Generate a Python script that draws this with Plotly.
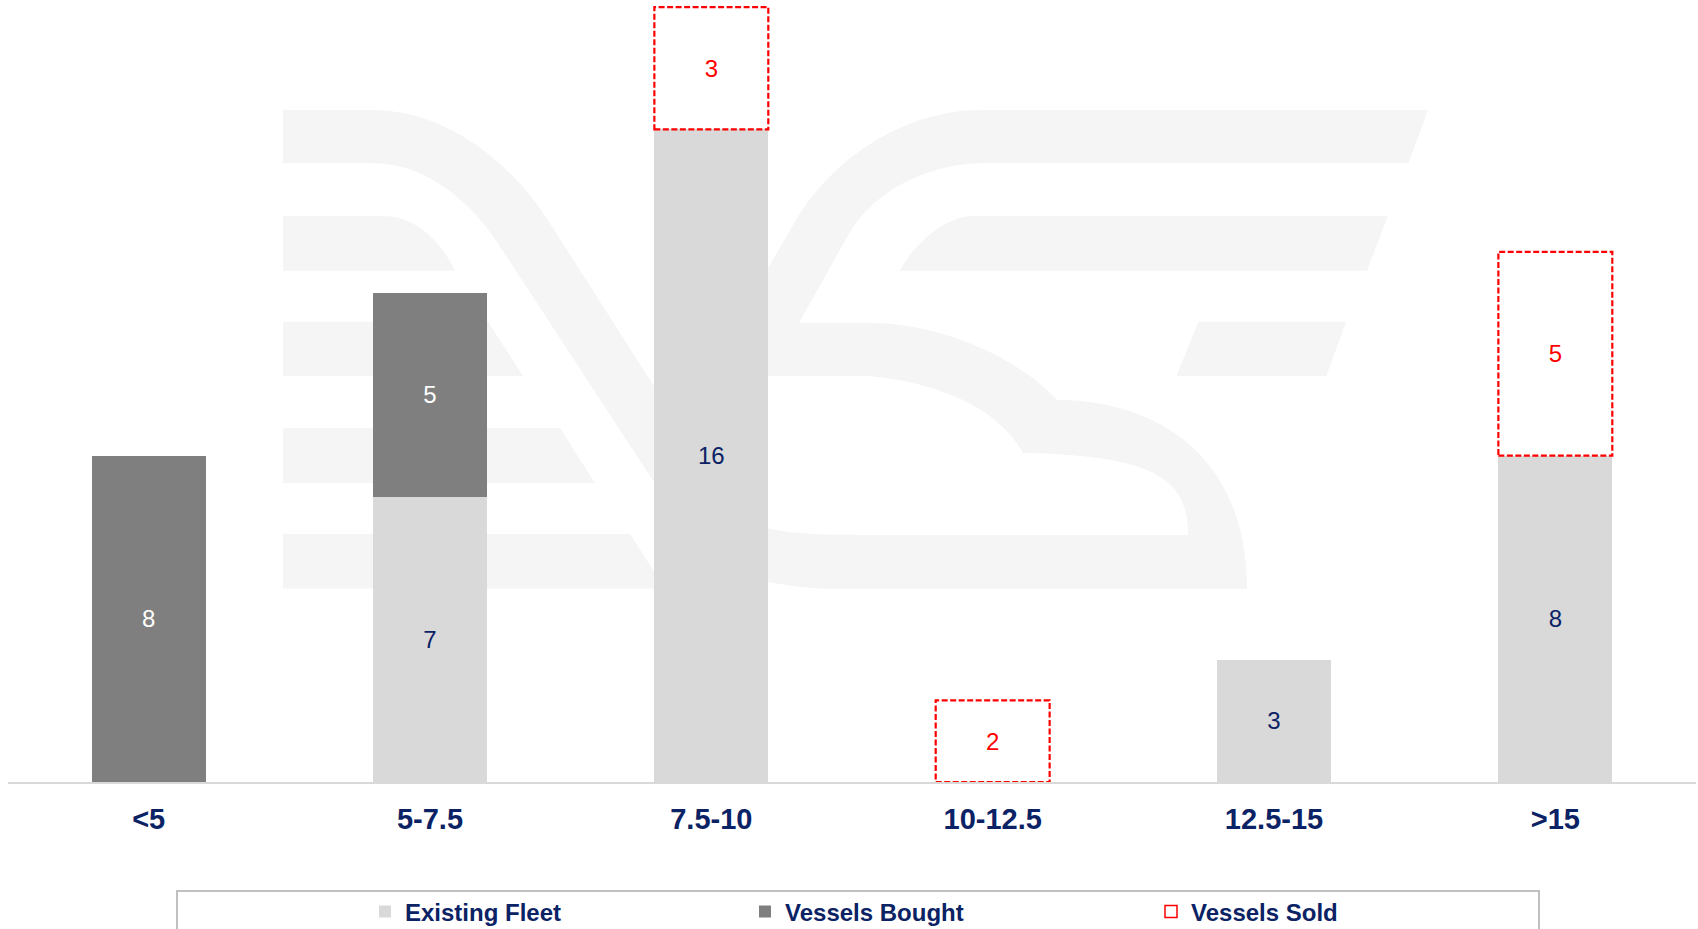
import plotly.graph_objects as go

# ---- data -------------------------------------------------------------
categories = ["<5", "5-7.5", "7.5-10", "10-12.5", "12.5-15", ">15"]
existing_fleet = [0, 7, 16, 0, 3, 8]
vessels_bought = [8, 5, 0, 0, 0, 0]
vessels_sold = [0, 0, 3, 2, 0, 5]

# ---- layout constants -------------------------------------------------
W, H = 1698, 929
ML, MR, MT, MB = 8, 2, 3, 147
PW = W - ML - MR
PH = H - MT - MB
Y_MAX = 19.1
BAR_GAP = 0.595
BAR_W = 1 - BAR_GAP

NAVY = "#0b2265"
LIGHT = "#d9d9d9"
DARK = "#7f7f7f"
RED = "#ff0000"
MARK = "#f4f5f4"
FONT = "Arial, Liberation Sans, sans-serif"


def px_to_paper(x, y):
    return (x - ML) / PW, (H - MB - y) / PH


def svg_path(cmds):
    parts = []
    for cmd, pts in cmds:
        if cmd == "Z":
            parts.append("Z")
            continue
        xy = []
        for x, y in pts:
            px, py = px_to_paper(x, y)
            xy.append(f"{px:.5f},{py:.5f}")
        if cmd == "C":
            parts.append("C" + " ".join(xy))
        else:
            parts.extend(cmd + c for c in xy)
    return " ".join(parts)


# ---- background logo (pixel outline, converted to paper space) --------
logo_paths = [
    # main stroke: upper-left bar, diagonal, base, bowl, middle bar, top bar
    [
        ("M", [(283, 110)]),
        ("L", [(373, 110)]),
        ("C", [(440, 110), (505, 155), (546.7, 218.3)]),
        ("L", [(730, 505)]),
        ("C", [(745, 528), (775, 535), (860, 535)]),
        ("L", [(1188, 535)]),
        ("C", [(1188, 485), (1165, 455), (1023, 453)]),
        ("C", [(1005, 420), (960, 385), (869, 376)]),
        ("L", [(705, 376)]),
        ("L", [(795, 221.7)]),
        ("C", [(830, 162), (900, 110), (982.7, 110)]),
        ("L", [(1428, 110)]),
        ("L", [(1408.5, 163.3)]),
        ("L", [(982.7, 163.3)]),
        ("C", [(930, 163.3), (875, 190), (850, 232)]),
        ("L", [(799, 322.7)]),
        ("L", [(869, 322.7)]),
        ("C", [(930, 322.7), (1010, 350), (1057, 400)]),
        ("C", [(1150, 400), (1247, 450), (1247, 589)]),
        ("L", [(843, 589)]),
        ("C", [(760, 589), (710, 568), (691.8, 540)]),
        ("L", [(497, 242)]),
        ("C", [(475, 208), (430, 163.3), (373, 163.3)]),
        ("L", [(283, 163.3)]),
        ("Z", []),
    ],
    # left speed lines
    [
        ("M", [(283, 216)]),
        ("L", [(383, 216)]),
        ("C", [(415, 216), (440, 240), (455, 270.7)]),
        ("L", [(283, 270.7)]),
        ("Z", []),
    ],
    [("M", [(283, 321.7)]), ("L", [(488, 321.7), (523, 376), (283, 376)]), ("Z", [])],
    [("M", [(283, 428)]), ("L", [(560, 428), (595, 483), (283, 483)]), ("Z", [])],
    [("M", [(283, 534)]), ("L", [(630, 534), (665, 588.5), (283, 588.5)]), ("Z", [])],
    # right bars
    [
        ("M", [(973.9, 216)]),
        ("L", [(1387.9, 216), (1367, 270.7), (899.6, 270.7)]),
        ("C", [(915, 243), (945, 216), (973.9, 216)]),
        ("Z", []),
    ],
    [("M", [(1198.3, 321.7)]), ("L", [(1346, 321.7), (1326.4, 376), (1176.5, 376)]), ("Z", [])],
]

shapes = []
for p in logo_paths:
    shapes.append(dict(type="path", xref="paper", yref="paper", path=svg_path(p),
                       fillcolor=MARK, line=dict(width=0), layer="below"))

# dashed outlines for sold vessels, placed on the data axes
for i, sold in enumerate(vessels_sold):
    if sold:
        base = existing_fleet[i] + vessels_bought[i]
        shapes.append(dict(type="rect", xref="x", yref="y",
                           x0=i - BAR_W / 2, x1=i + BAR_W / 2,
                           y0=base, y1=base + sold,
                           line=dict(color=RED, width=2.2, dash="6px,2.5px"),
                           fillcolor="rgba(0,0,0,0)", layer="above"))

# legend frame
lx0, ly0 = px_to_paper(177, 891)
lx1, ly1 = px_to_paper(1539, 945)
shapes.append(dict(type="rect", xref="paper", yref="paper", x0=lx0, x1=lx1, y0=ly0, y1=ly1,
                   line=dict(color="#c0c0c0", width=2), fillcolor="rgba(0,0,0,0)", layer="above"))


def labels(vals):
    return [str(v) if v else "" for v in vals]


fig = go.Figure()
fig.add_trace(go.Bar(
    name="Existing Fleet", x=categories, y=existing_fleet,
    marker=dict(color=LIGHT, line=dict(width=0)),
    text=labels(existing_fleet), textposition="inside", insidetextanchor="middle",
    textfont=dict(family=FONT, size=24, color=NAVY), legend="legend",
))
fig.add_trace(go.Bar(
    name="Vessels Bought", x=categories, y=vessels_bought,
    marker=dict(color=DARK, line=dict(width=0)),
    text=labels(vessels_bought), textposition="inside", insidetextanchor="middle",
    textfont=dict(family=FONT, size=24, color="white"), legend="legend2",
))
fig.add_trace(go.Bar(
    name="Vessels Sold", x=categories, y=vessels_sold,
    marker=dict(color="white", line=dict(width=0)),
    text=labels(vessels_sold), textposition="inside", insidetextanchor="middle",
    textfont=dict(family=FONT, size=24, color=RED), showlegend=False,
))
# legend swatch for sold vessels
fig.add_trace(go.Bar(
    name="Vessels Sold", x=[None], y=[None],
    marker=dict(color="white", line=dict(color=RED, width=1.5)),
    legend="legend3", showlegend=True,
))

legend_font = dict(family=FONT, size=24, color=NAVY, weight="bold")
legend_y = px_to_paper(0, 912)[1]


def legend_at(icon_px):
    return dict(x=px_to_paper(icon_px - 22, 0)[0], xanchor="left", y=legend_y, yanchor="middle",
                orientation="h", font=legend_font, bgcolor="rgba(0,0,0,0)", borderwidth=0)


fig.update_layout(
    width=W, height=H,
    margin=dict(l=ML, r=MR, t=MT, b=MB, autoexpand=False),
    barmode="stack", bargap=BAR_GAP,
    plot_bgcolor="white", paper_bgcolor="white",
    font=dict(family=FONT),
    showlegend=True,
    legend=legend_at(387),
    legend2=legend_at(767),
    legend3=legend_at(1173),
    shapes=shapes,
    xaxis=dict(
        type="category", showline=True, linecolor=LIGHT, linewidth=2,
        ticks="", showgrid=False, zeroline=False, ticklabelstandoff=10,
        tickfont=dict(family=FONT, size=29, color=NAVY, weight="bold"),
        range=[-0.5, len(categories) - 0.5],
    ),
    yaxis=dict(range=[0, Y_MAX], visible=False, showgrid=False, zeroline=False),
    uniformtext=dict(mode=False),
)

fig.write_html("out.html", config={"displayModeBar": False})
